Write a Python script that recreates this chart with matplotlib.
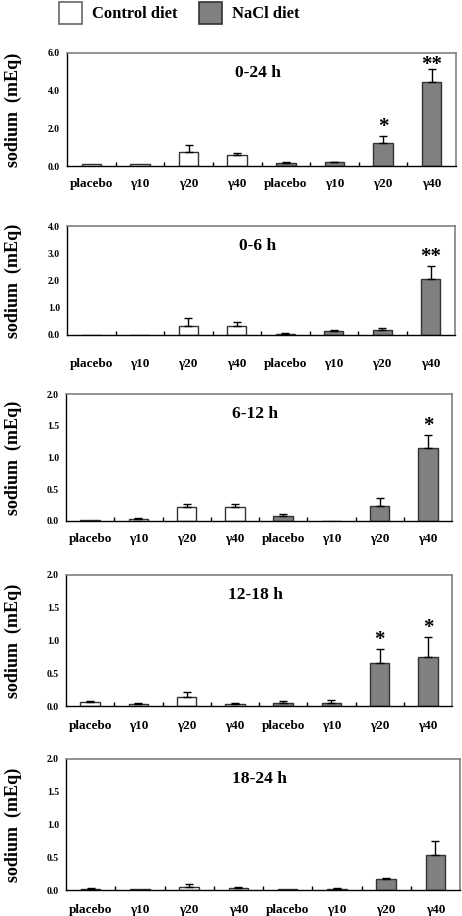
import numpy as np
import matplotlib
matplotlib.use("Agg")
import matplotlib.pyplot as plt
from matplotlib.patches import Patch

plt.rcParams['font.family'] = ['Liberation Serif', 'DejaVu Serif']
plt.rcParams['font.weight'] = 'bold'

# categories (4 control diet + 4 NaCl diet)
categories = ['placebo', 'γ10', 'γ20', 'γ40', 'placebo', 'γ10', 'γ20', 'γ40']
is_nacl = [False, False, False, False, True, True, True, True]

# time windows
periods = ['0-24 h', '0-6 h', '6-12 h', '12-18 h', '18-24 h']
y_max = [6.0, 4.0, 2.0, 2.0, 2.0]
y_step = [2.0, 1.0, 0.5, 0.5, 0.5]

# sodium excretion (mEq), mean values
mean_0_24 = [0.10, 0.10, 0.75, 0.57, 0.14, 0.19, 1.20, 4.46]
mean_0_6 = [0.00, 0.00, 0.34, 0.34, 0.05, 0.15, 0.19, 2.05]
mean_6_12 = [0.016, 0.037, 0.22, 0.22, 0.084, 0.00, 0.24, 1.145]
mean_12_18 = [0.066, 0.036, 0.14, 0.036, 0.05, 0.05, 0.65, 0.75]
mean_18_24 = [0.015, 0.010, 0.046, 0.03, 0.010, 0.015, 0.17, 0.54]

# upper error bars
err_0_24 = [0.0, 0.0, 0.35, 0.10, 0.09, 0.04, 0.39, 0.71]
err_0_6 = [0.0, 0.0, 0.27, 0.15, 0.02, 0.03, 0.08, 0.48]
err_6_12 = [0.0, 0.01, 0.04, 0.05, 0.03, 0.0, 0.12, 0.205]
err_12_18 = [0.014, 0.01, 0.08, 0.01, 0.03, 0.047, 0.22, 0.30]
err_18_24 = [0.01, 0.0, 0.044, 0.01, 0.0, 0.01, 0.01, 0.205]

# significance marks
sig_0_24 = ['', '', '', '', '', '', '*', '**']
sig_0_6 = ['', '', '', '', '', '', '', '**']
sig_6_12 = ['', '', '', '', '', '', '', '*']
sig_12_18 = ['', '', '', '', '', '', '*', '*']
sig_18_24 = ['', '', '', '', '', '', '', '']

means = [mean_0_24, mean_0_6, mean_6_12, mean_12_18, mean_18_24]
errs = [err_0_24, err_0_6, err_6_12, err_12_18, err_18_24]
sigs = [sig_0_24, sig_0_6, sig_6_12, sig_12_18, sig_18_24]

# layout in pixels: left, right, top, bottom, xlabel pad (pt)
W, H = 462, 916
boxes = [(67, 456, 53, 166, 9),
         (67, 455, 226, 335, 16.7),
         (66, 452, 394, 521, 8.8),
         (66, 452, 575, 706, 10),
         (66, 460, 759, 890, 10)]
PX_PER_PT = 100 / 72

fig = plt.figure(figsize=(W / 100, H / 100), dpi=100)
x = np.arange(len(categories))
colors = ['#808080' if n else 'white' for n in is_nacl]

for i, (l, r, t, b, pad) in enumerate(boxes):
    ax = fig.add_axes([l / W, 1 - b / H, (r - l) / W, (b - t) / H])
    m = np.array(means[i])
    e = np.array(errs[i])
    ax.bar(x, m, width=0.4, color=colors, edgecolor='#333333', linewidth=1, zorder=2)
    has = e > 0
    ax.errorbar(x[has], m[has], yerr=[np.zeros(has.sum()), e[has]], fmt='none',
                ecolor='black', elinewidth=1, capsize=3, capthick=1, zorder=3)
    top = y_max[i]
    px_per_unit = (b - t) / top
    for xi, s in enumerate(sigs[i]):
        if s:
            room = (top - m[xi] - e[xi]) * px_per_unit
            centre = min(13, room - 9)
            ax.annotate(s, (xi, m[xi] + e[xi]),
                        xytext=(0, (centre - 13.5) / PX_PER_PT), textcoords='offset points',
                        ha='center', va='bottom', fontsize=15, fontweight='bold',
                        annotation_clip=False)
    ax.set_xlim(-0.5, len(categories) - 0.5)
    ax.set_ylim(0, top)
    yt = np.arange(0, top + 1e-9, y_step[i])
    ax.set_yticks(yt)
    ax.set_yticklabels([f'{v:.1f}' for v in yt], fontsize=7, fontweight='bold')
    ax.set_xticks(x)
    ax.set_xticklabels(categories, fontsize=9.5, fontweight='bold')
    ax.set_xticks(x[:-1] + 0.5, minor=True)
    ax.tick_params(axis='x', which='major', length=0, pad=pad)
    ax.tick_params(axis='x', which='minor', direction='in', length=3, width=1, color='black')
    ax.tick_params(axis='y', length=0, pad=5)
    for side in ['top', 'right']:
        ax.spines[side].set_color('#808080')
        ax.spines[side].set_linewidth(1.2)
    for side in ['left', 'bottom']:
        ax.spines[side].set_color('black')
        ax.spines[side].set_linewidth(1)
    ax.text(0.49, 1 - 20 / (b - t), periods[i], transform=ax.transAxes,
            ha='center', va='center', fontsize=12.5, fontweight='bold')
    ax.set_ylabel('sodium  (mEq)', fontsize=13, fontweight='bold', va='center')
    ax.yaxis.set_label_coords((13 - l) / (r - l), 0.5)

handles = [Patch(facecolor='white', edgecolor='#666666', linewidth=1.2),
           Patch(facecolor='#808080', edgecolor='#333333', linewidth=1.2)]
fig.legend(handles, ['Control diet', 'NaCl diet'], loc='center left',
           bbox_to_anchor=(59 / W, 1 - 13 / H), ncol=2, frameon=False,
           prop={'size': 12, 'weight': 'bold'}, handlelength=1.4, handleheight=1.6,
           handletextpad=0.6, columnspacing=1.25, borderaxespad=0, borderpad=0)

fig.savefig('out.png', dpi=100)
